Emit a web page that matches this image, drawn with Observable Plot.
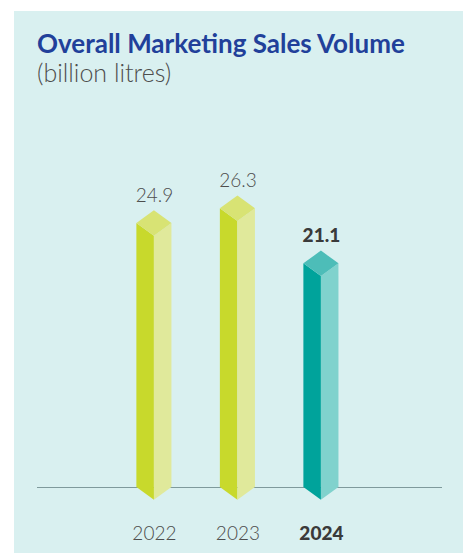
<!DOCTYPE html>
<html>
<head>
<meta charset="utf-8">
<script src="https://cdn.jsdelivr.net/npm/d3@7"></script>
<script src="https://cdn.jsdelivr.net/npm/@observablehq/plot@0.6"></script>
<style>
  html, body { margin: 0; padding: 0; background: #ffffff; width: 465px; height: 553px; overflow: hidden; }
  #panel { position: absolute; left: 14px; top: 11px; width: 449px; height: 542px; background: #d9f0f0; }
  #title { position: absolute; left: 23px; top: 16px; font-family: Lato, "Open Sans", sans-serif; font-weight: 700; font-size: 26px; color: #21409a; white-space: nowrap; }
  #subtitle { position: absolute; left: 23px; top: 46px; font-family: Lato, "Open Sans", sans-serif; font-weight: 300; font-size: 25px; color: #4d4d4d; white-space: nowrap; }
  #chart { position: absolute; left: 0px; top: 89px; }
</style>
</head>
<body>
<div id="panel">
  <div id="title">Overall Marketing Sales Volume</div>
  <div id="subtitle">(billion litres)</div>
  <div id="chart"></div>
</div>
<script>
// ---- data ----
const years = [2022, 2023, 2024];
const volumes = [24.9, 26.3, 21.1];
const valueLabels = ["24.9", "26.3", "21.1"];
const yearLabels = ["2022", "2023", "2024"];
const highlighted = [false, false, true];

// ---- style constants ----
const leftColors  = {normal: "#c8d92c", hi: "#00a39b"};
const rightColors = {normal: "#e0e99b", hi: "#80d2cd"};
const topColors   = {normal: "#d8e374", hi: "#4dbdb8"};
const halfW = 0.21;   // half bar width, in year units
const cap = 1.2;      // cap depth, in value units

const rows = years.map((y, i) => ({year: y, value: volumes[i], label: valueLabels[i], ylabel: yearLabels[i], hi: highlighted[i]}));

// Build face polygons (as 2- or 3-point areas) from data
const leftFaces = rows.flatMap(r => [
  {id: r.year, x: r.year - halfW, y1: 0, y2: r.value, hi: r.hi},
  {id: r.year, x: r.year, y1: -cap, y2: r.value - cap, hi: r.hi}
]);
const rightFaces = rows.flatMap(r => [
  {id: r.year, x: r.year, y1: -cap, y2: r.value - cap, hi: r.hi},
  {id: r.year, x: r.year + halfW, y1: 0, y2: r.value, hi: r.hi}
]);
const topFaces = rows.flatMap(r => [
  {id: r.year, x: r.year - halfW, y1: r.value, y2: r.value, hi: r.hi},
  {id: r.year, x: r.year, y1: r.value - cap, y2: r.value + cap, hi: r.hi},
  {id: r.year, x: r.year + halfW, y1: r.value, y2: r.value, hi: r.hi}
]);

const normalRows = rows.filter(r => !r.hi);
const hiRows = rows.filter(r => r.hi);

const W = 449, H = 453;
const chart = Plot.plot({
  width: W,
  height: H,
  marginLeft: 23,
  marginRight: 21,
  marginTop: 69,
  marginBottom: 66,
  style: {background: "transparent", fontFamily: "Lato, 'Open Sans', sans-serif"},
  x: {domain: [2020.6, 2025.45], axis: null},
  y: {domain: [0, 30], axis: null},
  marks: [
    Plot.ruleY([0], {stroke: "#7f9a9c", strokeWidth: 1.2}),
    Plot.areaY(leftFaces, {x: "x", y1: "y1", y2: "y2", z: "id", fill: d => d.hi ? leftColors.hi : leftColors.normal, curve: "linear"}),
    Plot.areaY(rightFaces, {x: "x", y1: "y1", y2: "y2", z: "id", fill: d => d.hi ? rightColors.hi : rightColors.normal, curve: "linear"}),
    Plot.areaY(topFaces, {x: "x", y1: "y1", y2: "y2", z: "id", fill: d => d.hi ? topColors.hi : topColors.normal, curve: "linear"}),
    Plot.text(normalRows, {
      x: "year", y: d => d.value + cap, text: "label",
      dy: -9, lineAnchor: "bottom", fontSize: 19, fontWeight: 300, fill: "#4d4d4d"
    }),
    Plot.text(hiRows, {
      x: "year", y: d => d.value + cap, text: "label",
      dy: -9, lineAnchor: "bottom", fontSize: 19, fontWeight: 900, fill: "#3a3a3a"
    }),
    Plot.text(normalRows, {
      x: "year", y: () => 0, text: "ylabel",
      dy: 46, fontSize: 19, fontWeight: 300, fill: "#4d4d4d"
    }),
    Plot.text(hiRows, {
      x: "year", y: () => 0, text: "ylabel",
      dy: 46, fontSize: 19, fontWeight: 900, fill: "#3a3a3a"
    })
  ]
});
document.getElementById("chart").appendChild(chart);
</script>
</body>
</html>
